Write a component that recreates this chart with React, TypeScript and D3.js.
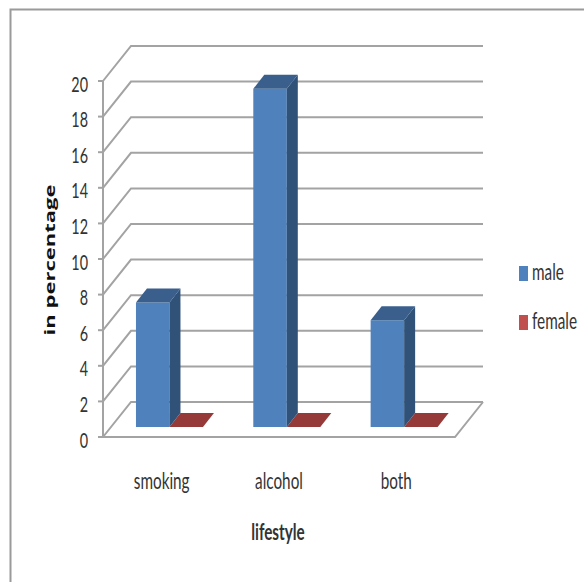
import React from "react";
import * as d3 from "d3";

const categories = ["smoking", "alcohol", "both"];
const maleValues = [7, 19, 6];
const femaleValues = [0, 0, 0];
const yTicks = [0, 2, 4, 6, 8, 10, 12, 14, 16, 18, 20];
const legendItems = [
  { label: "male", color: "#4f81bd" },
  { label: "female", color: "#c0504d" },
];

const GRID = "#a3a3a3";
const FONT = "Lato, 'Open Sans', sans-serif";

// Oblique projection: the wall sits behind the floor by this offset.
const WALL_DX = 28;
const WALL_DY = -35;
// Bars occupy the front third of the floor depth.
const BAR_DX = 11;
const BAR_DY = -14;
const BAR_INSET_Y = -10;

const y = d3.scaleLinear().domain([0, 20]).range([437, 81]);
const x = d3.scaleBand<string>().domain(categories).range([103, 455]).paddingInner(0).paddingOuter(0);

const poly = (pts: [number, number][]) => d3.line()(pts) + "Z";

function Box({ x0, w, v, front, top, side }: { x0: number; w: number; v: number; front: string; top: string; side: string }) {
  const base = y(0) + BAR_INSET_Y;
  const yTop = base - (y(0) - y(v));
  const x1 = x0 + w;
  return (
    <g>
      {v > 0 && <path d={poly([[x0, yTop], [x1, yTop], [x1, base], [x0, base]])} fill={front} />}
      {v > 0 && <path d={poly([[x1, yTop], [x1 + BAR_DX, yTop + BAR_DY], [x1 + BAR_DX, base + BAR_DY], [x1, base]])} fill={side} />}
      <path d={poly([[x0, yTop], [x0 + BAR_DX, yTop + BAR_DY], [x1 + BAR_DX, yTop + BAR_DY], [x1, yTop]])} fill={top} />
    </g>
  );
}

function Squeezed({ x: px, y: py, sx, sy, anchor, weight, size, children }: any) {
  return (
    <text
      transform={`translate(${px},${py}) scale(${sx},${sy})`}
      textAnchor={anchor}
      fontFamily={FONT}
      fontWeight={weight}
      fontSize={size}
      fill="#333"
    >
      {children}
    </text>
  );
}

export default function App() {
  const band = x.bandwidth();
  const barW = 33.5;
  const barOffset = 25.7;
  const y0 = y(0);
  return (
    <svg width={584} height={582} style={{ position: "absolute", left: 0, top: 0, background: "#fff" }}>
      {/* chart frame, open at the right and bottom edges */}
      <path d="M10.5,582V9.5H584" fill="none" stroke="#9a9a9a" strokeWidth={2} />

      {/* back wall gridlines with their diagonal returns */}
      {yTicks.map((t) => (
        <path
          key={t}
          d={`M103,${y(t)}L${103 + WALL_DX},${y(t) + WALL_DY}H${455 + WALL_DX}`}
          fill="none"
          stroke={GRID}
          strokeWidth={2}
        />
      ))}

      {/* front axis, floor edge and tick marks */}
      <path d={`M103,${y(20)}V${y0}H455L${455 + WALL_DX},${y0 + WALL_DY}`} fill="none" stroke={GRID} strokeWidth={2} />
      {yTicks.map((t) => (
        <path key={t} d={`M98,${y(t)}H103`} stroke={GRID} strokeWidth={2} />
      ))}

      {/* bars */}
      {categories.map((c, i) => {
        const left = (x(c) as number) + band / 2 - barOffset;
        return (
          <g key={c}>
            <Box x0={left + barW} w={barW} v={femaleValues[i]} front="#c0504d" top="#953a38" side="#7d302e" />
            <Box x0={left} w={barW} v={maleValues[i]} front="#4f81bd" top="#3a5f8c" side="#305278" />
          </g>
        );
      })}

      {/* value axis labels */}
      {yTicks.map((t) => (
        <Squeezed key={t} x={88} y={y(t) + 10.5} sx={0.9} sy={1.35} anchor="end" size={16}>
          {t}
        </Squeezed>
      ))}

      {/* category labels */}
      {categories.map((c) => (
        <Squeezed key={c} x={(x(c) as number) + band / 2} y={489} sx={0.9} sy={1.3} anchor="middle" size={17}>
          {c}
        </Squeezed>
      ))}

      {/* axis titles */}
      <text
        transform="translate(54.5,260) rotate(-90) scale(1.63,1.1)"
        textAnchor="middle"
        fontFamily="'Open Sans', sans-serif"
        fontWeight={700}
        fontSize={13.5}
        fill="#111"
      >
        in percentage
      </text>
      <Squeezed x={278} y={540} sx={0.9} sy={1.3} anchor="middle" weight={700} size={17}>
        lifestyle
      </Squeezed>

      {/* legend */}
      {legendItems.map((item, i) => (
        <g key={item.label}>
          <rect x={519} y={266 + i * 49} width={9} height={15} fill={item.color} />
          <Squeezed x={532} y={280 + i * 49} sx={0.9} sy={1.3} anchor="start" size={17}>
            {item.label}
          </Squeezed>
        </g>
      ))}
    </svg>
  );
}
